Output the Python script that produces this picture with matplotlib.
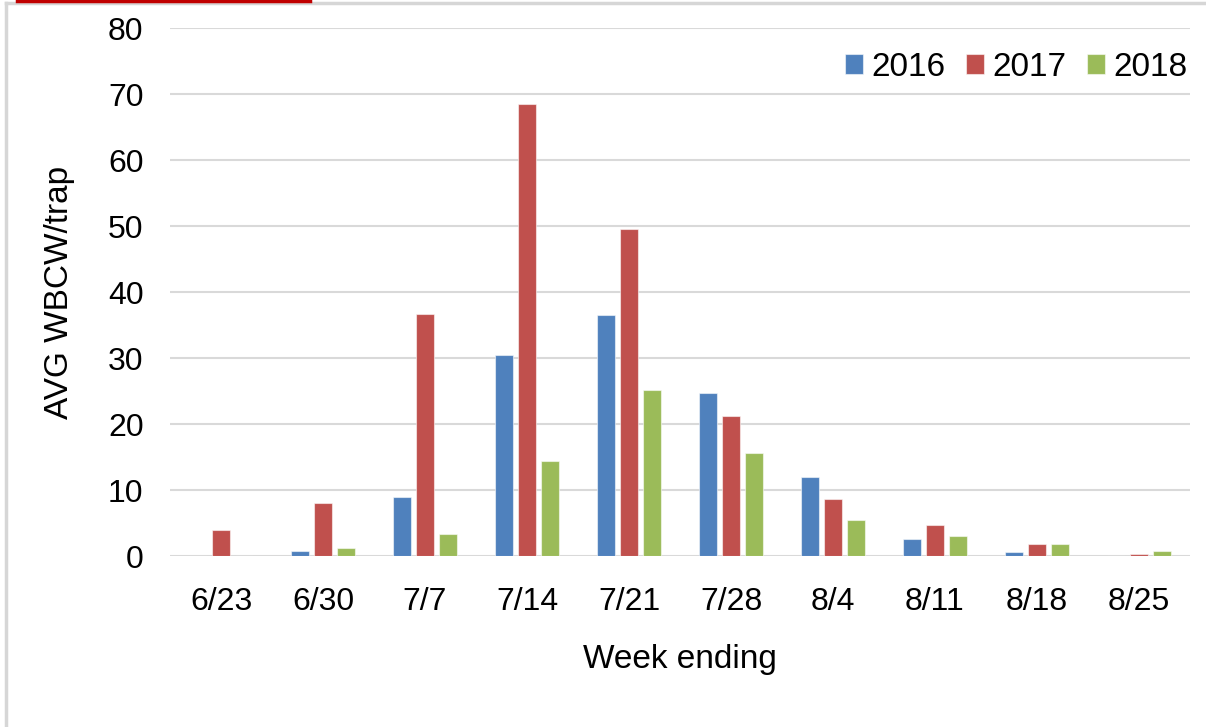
import matplotlib
matplotlib.use("Agg")
import matplotlib.pyplot as plt
import numpy as np
from matplotlib.lines import Line2D

weeks = ["6/23", "6/30", "7/7", "7/14", "7/21", "7/28", "8/4", "8/11", "8/18", "8/25"]
series_names = ["2016", "2017", "2018"]
y2016 = [0, 0.75, 8.9, 30.5, 36.5, 24.7, 12.0, 2.6, 0.55, 0]
y2017 = [4.0, 8.1, 36.7, 68.5, 49.6, 21.2, 8.7, 4.65, 1.8, 0.3]
y2018 = [0, 1.2, 3.4, 14.4, 25.2, 15.6, 5.45, 3.0, 1.8, 0.75]
colors = ["#4F81BD", "#C0504D", "#9BBB59"]
yticks = [0, 10, 20, 30, 40, 50, 60, 70, 80]

plt.rcParams['font.family'] = ['Liberation Sans', 'DejaVu Sans']

W, H = 1206, 727
fig = plt.figure(figsize=(W / 100, H / 100), dpi=100)
ax = fig.add_axes([170 / W, 1 - 556 / H, (1190 - 170) / W, (556 - 28) / H])

x = np.arange(len(weeks))
bw = 0.176
pitch = 0.222
for i, (vals, name, c) in enumerate(zip([y2016, y2017, y2018], series_names, colors)):
    ax.bar(x + (i - 1) * pitch, vals, width=bw, color=c, label=name,
           edgecolor=(1, 1, 1, 0.55), linewidth=0.8, zorder=3)

ax.set_xlim(-0.5, len(weeks) - 0.5)
ax.set_ylim(0, 80)
ax.set_yticks(yticks)
ax.set_xticks(x)
ax.set_xticklabels(weeks)
ax.grid(axis='y', color='#D9D9D9', linewidth=1.5, zorder=0)
ax.set_axisbelow(True)
for s in ax.spines.values():
    s.set_visible(False)
ax.tick_params(axis='both', length=0, labelsize=23, colors='#000000')
ax.tick_params(axis='y', pad=19)
ax.tick_params(axis='x', pad=22)
ax.set_xlabel("Week ending", fontsize=24, labelpad=20)
ax.set_ylabel("AVG WBCW/trap", fontsize=24, labelpad=24)

leg = ax.legend(loc='upper right', ncol=3, frameon=False, fontsize=24,
                handlelength=0.55, handleheight=0.55, handletextpad=0.25,
                columnspacing=0.6, bbox_to_anchor=(1.017, 0.993), borderaxespad=0.2)

# image frame lines
fig.add_artist(Line2D([6 / W, 6 / W], [0, 1 - 3 / H], transform=fig.transFigure,
                      color='#D6D6D6', linewidth=2.5))
fig.add_artist(Line2D([6 / W, 1], [1 - 3 / H, 1 - 3 / H], transform=fig.transFigure,
                      color='#D6D6D6', linewidth=2.5))
fig.add_artist(Line2D([17 / W, 310 / W], [1 - 0.8 / H, 1 - 0.8 / H], transform=fig.transFigure,
                      color='#C00000', linewidth=2.5))

fig.savefig("out.png", dpi=100)
